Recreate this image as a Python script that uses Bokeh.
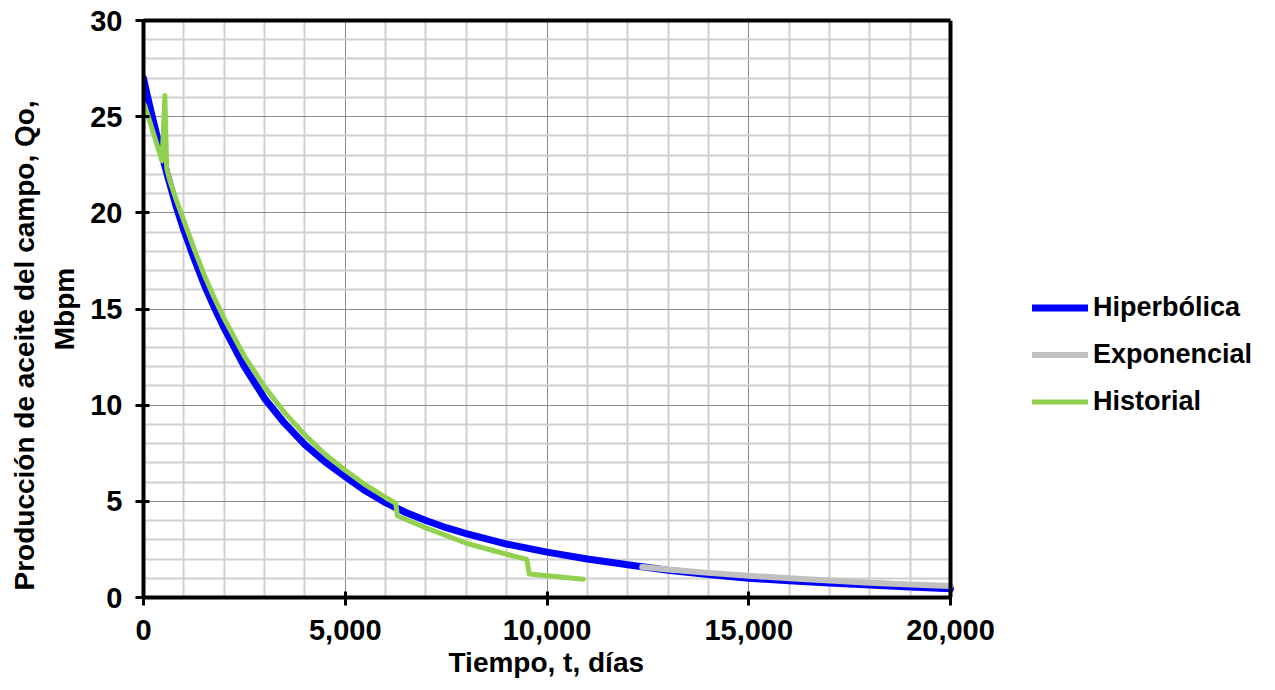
from bokeh.plotting import figure
from bokeh.models import (Range1d, Legend, LegendItem, NumeralTickFormatter, FixedTicker,
                          LinearAxis, Span, Title)
from bokeh.embed import file_html
from bokeh.resources import INLINE

# ---- data ----
hyp_t = [0, 100, 200, 300, 400, 500, 600, 800, 1000, 1250, 1500, 1750, 2000, 2500, 3000,
         3500, 4000, 4500, 5000, 5500, 6000, 6500, 7000, 7500, 8000, 9000, 10000, 11000,
         12000, 13000, 14000, 15000, 16000, 17000, 18000, 19000, 20000]
hyp_q = [27.0, 26.05, 25.15, 24.3, 23.45, 22.66, 21.9, 20.4, 19.1, 17.65, 16.3, 15.1, 14.0,
         12.0, 10.35, 9.05, 7.95, 7.05, 6.28, 5.55, 4.93, 4.42, 4.0, 3.63, 3.32, 2.78, 2.36,
         2.0, 1.7, 1.42, 1.2, 1.0, 0.87, 0.75, 0.65, 0.55, 0.46]

exp_t = [12360, 13000, 14000, 15000, 16000, 17000, 18000, 19000, 20000]
exp_q = [1.58, 1.46, 1.28, 1.13, 1.0, 0.88, 0.77, 0.68, 0.6]

hist_t = [30, 460, 530, 575, 650, 800, 1000, 1250, 1500, 1750, 2000, 2500, 3000, 3500,
          4000, 4500, 5000, 5500, 6000, 6250, 6290, 7000, 8000, 9000, 9500, 9560, 10900]
hist_q = [25.6, 22.7, 26.1, 22.3, 21.7, 20.75, 19.6, 18.15, 16.8, 15.6, 14.5, 12.55, 10.95,
          9.6, 8.45, 7.45, 6.62, 5.85, 5.2, 4.9, 4.25, 3.62, 2.82, 2.25, 1.98, 1.22, 0.95]

series_names = ["Hiperbólica", "Exponencial", "Historial"]
series_colors = ["#0000FF", "#C0C0C0", "#92D050"]

x_ticks = [0, 5000, 10000, 15000, 20000]
x_minor = [1000, 2000, 3000, 4000, 6000, 7000, 8000, 9000, 11000, 12000, 13000, 14000,
           16000, 17000, 18000, 19000]
y_ticks = [0, 5, 10, 15, 20, 25, 30]
y_minor = [1, 2, 3, 4, 6, 7, 8, 9, 11, 12, 13, 14, 16, 17, 18, 19, 21, 22, 23, 24, 26, 27, 28, 29]

x_title = "Tiempo, t, días"
y_title_1 = "Producción de aceite del campo, Qo,"
y_title_2 = "Mbpm"

FONT = "Liberation Sans"
X_END = 20000                      # end of the plotted time axis
X_VIEW = X_END * 1132 / 807        # extra room on the right holds the legend

p = figure(width=1275, height=690, output_backend="svg", toolbar_location=None,
           x_range=Range1d(0, X_VIEW), y_range=Range1d(0, 30),
           min_border_left=143, min_border_right=0, min_border_top=20,
           min_border_bottom=93)
p.background_fill_color = "white"
p.border_fill_color = "white"
p.outline_line_color = None

p.xaxis.ticker = FixedTicker(ticks=x_ticks, minor_ticks=x_minor)
p.yaxis.ticker = FixedTicker(ticks=y_ticks, minor_ticks=y_minor)
p.xaxis.formatter = NumeralTickFormatter(format="0,0")
p.xaxis.bounds = (0, X_END)

for g in (p.xgrid, p.ygrid):
    g.grid_line_color = "#8c8c8c"
    g.grid_line_width = 1
    g.minor_grid_line_color = "#d0d0d0"
    g.minor_grid_line_width = 2
p.xgrid.bounds = (0, X_END)
p.ygrid.cross_bounds = (0, X_END)

for ax in (p.xaxis, p.yaxis):
    ax.axis_line_color = "black"
    ax.axis_line_width = 4
    ax.major_tick_line_color = "black"
    ax.major_tick_line_width = 3
    ax.major_tick_in = 6
    ax.major_tick_out = 8
    ax.minor_tick_line_color = None
    ax.major_label_text_font = FONT
    ax.major_label_text_font_style = "bold"
    ax.major_label_text_font_size = "29px"
    ax.major_label_text_color = "black"
p.yaxis.major_label_standoff = 13
p.xaxis.major_label_standoff = 14

title_style = dict(text_font=FONT, text_font_size="28px", text_font_style="bold",
                   text_color="black")
# x title, centred under the time axis (not under the legend area)
p.add_layout(Title(text=x_title, align="left", offset=305, standoff=4, **title_style),
             "below")
# y title, two lines (second line next to the axis)
p.add_layout(Title(text=y_title_2, align="center", standoff=15, **title_style), "left")
p.add_layout(Title(text=y_title_1, align="left", offset=7, standoff=0, **title_style),
             "left")

# top border of the plot area
top = LinearAxis(bounds=(0, X_END), ticker=FixedTicker(ticks=[]),
                 axis_line_color="black", axis_line_width=4,
                 major_tick_line_color=None, minor_tick_line_color=None,
                 major_label_text_font_size="0px")
p.add_layout(top, "above")
# right border of the plot area
p.add_layout(Span(location=X_END, dimension="height", line_color="black", line_width=4))

r_h = p.line(hyp_t, hyp_q, line_color=series_colors[0], line_width=7,
             line_cap="round", line_join="round")
r_e = p.line(exp_t, exp_q, line_color=series_colors[1], line_width=6,
             line_cap="round", line_join="round")
r_g = p.line(hist_t, hist_q, line_color=series_colors[2], line_width=5,
             line_cap="round", line_join="round")

legend = Legend(items=[LegendItem(label=series_names[0], renderers=[r_h]),
                       LegendItem(label=series_names[1], renderers=[r_e]),
                       LegendItem(label=series_names[2], renderers=[r_g])],
                location=(889, 172), orientation="vertical",
                glyph_width=56, glyph_height=47, label_height=47, spacing=0,
                padding=0, margin=0, border_line_color=None, background_fill_alpha=0,
                label_text_font=FONT, label_text_font_style="bold",
                label_text_font_size="27px", label_standoff=5,
                label_text_color="black")
p.add_layout(legend)

open("out.html", "w").write(file_html(p, INLINE))
